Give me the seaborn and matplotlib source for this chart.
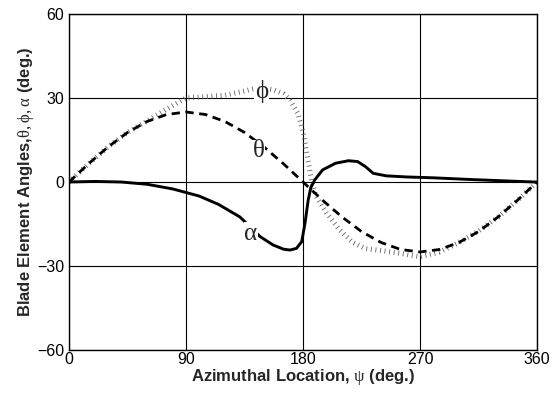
import matplotlib
matplotlib.use("Agg")
import matplotlib.pyplot as plt
import seaborn as sns
import pandas as pd

sns.set_style("white")
plt.rcParams['font.family'] = ['Liberation Sans', 'DejaVu Sans']
plt.rcParams['mathtext.fontset'] = 'custom'
plt.rcParams['mathtext.rm'] = 'Liberation Serif'

# ---- data ----
psi_theta = [0, 15, 30, 45, 60, 75, 90, 105, 120, 135, 150, 165, 180,
             195, 210, 225, 240, 255, 270, 285, 300, 315, 330, 345, 360]
theta = [0, 6.5, 12.5, 17.7, 21.6, 24.1, 25, 24.1, 21.6, 17.7, 12.5, 6.5, 0,
         -6.5, -12.5, -17.7, -21.6, -24.1, -25, -24.1, -21.6, -17.7, -12.5, -6.5, 0]

psi_phi = [0, 15, 30, 45, 60, 75, 90, 105, 120, 135, 145, 157, 165, 170, 176,
           180, 183, 186.5, 190, 198, 208, 218, 228, 240, 255, 270, 285, 300,
           315, 330, 345, 360]
phi = [0, 6.5, 12.5, 17.7, 21.8, 26, 30, 30.5, 31, 32.5, 33.7, 33, 31.5, 29.3, 24.6,
       18, 10, 0.7, -5, -11, -17, -21.5, -23.8, -24.5, -25.5, -26.7, -25, -21.6,
       -17.5, -12.5, -6.5, 0]

psi_alpha = [0, 20, 40, 60, 80, 100, 115, 131.5, 147, 157, 165, 170, 175, 179,
             181.5, 184, 186, 189, 195, 205, 215, 222, 228, 234, 244, 260, 280,
             306, 330, 358, 360]
alpha = [0, 0.2, 0, -0.8, -2.5, -5, -8, -12.5, -19.5, -22.5, -24, -24.3, -23.7, -21.3,
         -14.8, -6.4, -2, 0.7, 4.3, 6.7, 7.6, 7.3, 5.5, 3.1, 2.2, 1.8, 1.5,
         0.95, 0.5, 0, 0]

x_ticks = [0, 90, 180, 270, 360]
y_ticks = [-60, -30, 0, 30, 60]

df_theta = pd.DataFrame({"psi": psi_theta, "val": theta})
df_phi = pd.DataFrame({"psi": psi_phi, "val": phi})
df_alpha = pd.DataFrame({"psi": psi_alpha, "val": alpha})

fig = plt.figure(figsize=(5.6, 3.96), dpi=100)
ax = fig.add_axes([0.1232, 0.1162, 0.959 - 0.1232, 0.9646 - 0.1162])

ax.grid(True, color="black", linewidth=0.8, zorder=0)
ax.set_axisbelow(True)

sns.lineplot(data=df_phi, x="psi", y="val", ax=ax, sort=False, color="#666666",
             linewidth=3.6, linestyle=(0, (0.17, 0.75)), dash_capstyle="butt",
             zorder=2)
sns.lineplot(data=df_theta, x="psi", y="val", ax=ax, sort=False, color="black",
             linewidth=2.0, linestyle=(0, (3.0, 2.0)), dash_capstyle="butt",
             zorder=3)
sns.lineplot(data=df_alpha, x="psi", y="val", ax=ax, sort=False, color="black",
             linewidth=2.1, zorder=4)

lab_kw = dict(fontsize=18, family="Liberation Serif", ha="center", va="center",
              bbox=dict(facecolor="white", edgecolor="none", pad=0.3), zorder=5)
ax.text(148, 32.5, "ϕ", **lab_kw)
ax.text(146, 11, "θ", **lab_kw)
ax.text(140, -18.5, "α", **lab_kw)

ax.set_xlim(0, 360)
ax.set_ylim(-60, 60)
ax.set_xticks(x_ticks)
ax.set_yticks(y_ticks)
ax.set_xticklabels([str(v) for v in x_ticks])
ax.set_yticklabels([str(v).replace("-", "\u2212") for v in y_ticks])
ax.tick_params(axis="both", direction="in", length=4, labelsize=11.5,
               colors="black")
ax.tick_params(axis="x", pad=1.5)
ax.tick_params(axis="y", pad=3.5)
for s in ax.spines.values():
    s.set_color("black")
    s.set_linewidth(1.0)

ax.set_xlabel(r"Azimuthal Location, $\mathrm{\psi}$ (deg.)", fontsize=12,
              fontweight="bold", labelpad=0)
ax.set_ylabel(r"Blade Element Angles,$\mathrm{\theta,\phi,\alpha}$ (deg.)",
              fontsize=12, fontweight="bold", labelpad=1)

fig.savefig("out.png", dpi=100)
